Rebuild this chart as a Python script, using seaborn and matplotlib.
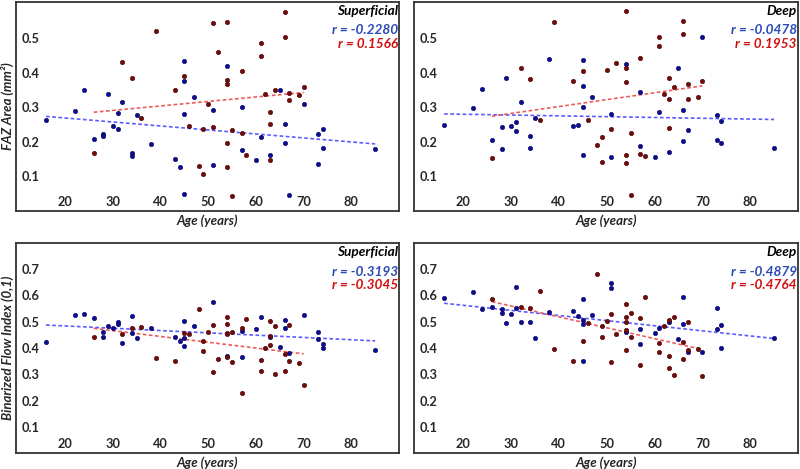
import matplotlib
matplotlib.use("Agg")
import matplotlib.pyplot as plt
import seaborn as sns

# ---- data (age in years) ----
# FAZ area, superficial layer
faz_sup_blue_age = [16, 22, 24, 26, 28, 28, 29, 30, 31, 31, 32, 34, 34, 35, 38, 43, 44, 45, 45, 45,
                    45, 47, 51, 51, 54, 57, 57, 60, 61, 63, 65, 66, 66, 67, 70, 73, 73, 74, 74, 85]
faz_sup_blue = [0.264, 0.290, 0.350, 0.208, 0.222, 0.218, 0.338, 0.246, 0.285, 0.238,
                0.316, 0.169, 0.158, 0.278, 0.194, 0.151, 0.127, 0.434, 0.375, 0.280,
                0.050, 0.329, 0.293, 0.134, 0.420, 0.300, 0.177, 0.148, 0.214, 0.162,
                0.350, 0.252, 0.198, 0.045, 0.310, 0.222, 0.135, 0.236, 0.182, 0.179]
faz_sup_red_age = [26, 32, 34, 36, 39, 43, 45, 46, 48, 49, 49, 50, 51, 51, 52, 54, 54, 54, 54, 54,
                   55, 55, 57, 57, 58, 61, 61, 62, 63, 63, 63, 64, 66, 66, 67, 67, 69, 70]
faz_sup_red = [0.167, 0.432, 0.384, 0.270, 0.521, 0.350, 0.392, 0.247, 0.131, 0.237,
               0.106, 0.309, 0.545, 0.243, 0.461, 0.548, 0.379, 0.368, 0.196, 0.127,
               0.235, 0.044, 0.406, 0.225, 0.162, 0.485, 0.448, 0.338, 0.288, 0.251,
               0.148, 0.350, 0.577, 0.505, 0.343, 0.322, 0.337, 0.360]

# FAZ area, deep layer
faz_deep_blue_age = faz_sup_blue_age
faz_deep_blue = [0.250, 0.299, 0.352, 0.205, 0.244, 0.179, 0.386, 0.246, 0.257, 0.231,
                 0.316, 0.217, 0.183, 0.270, 0.441, 0.246, 0.250, 0.436, 0.361, 0.300,
                 0.162, 0.330, 0.282, 0.157, 0.426, 0.344, 0.189, 0.155, 0.286, 0.170,
                 0.415, 0.291, 0.204, 0.234, 0.505, 0.278, 0.206, 0.261, 0.197, 0.181]
faz_deep_red_age = [26, 32, 34, 36, 39, 43, 45, 46, 48, 49, 49, 50, 51, 52, 54, 54, 54, 54, 54,
                    55, 55, 57, 57, 58, 61, 61, 62, 63, 63, 63, 64, 66, 66, 67, 67, 69, 70]
faz_deep_red = [0.154, 0.415, 0.382, 0.262, 0.548, 0.375, 0.405, 0.262, 0.190, 0.213,
                0.142, 0.408, 0.237, 0.428, 0.578, 0.413, 0.372, 0.162, 0.139, 0.226,
                0.047, 0.444, 0.165, 0.158, 0.503, 0.478, 0.339, 0.385, 0.324, 0.239,
                0.359, 0.551, 0.513, 0.369, 0.323, 0.330, 0.375]

# Binarized flow index, superficial layer
bfi_sup_blue_age = [16, 22, 24, 26, 28, 28, 29, 30, 31, 31, 32, 34, 34, 35, 38, 43, 44, 45, 45, 45,
                    47, 51, 54, 57, 57, 60, 61, 63, 65, 66, 66, 67, 70, 73, 73, 74, 74, 85]
bfi_sup_blue = [0.422, 0.525, 0.531, 0.513, 0.462, 0.441, 0.485, 0.478, 0.498, 0.490,
                0.419, 0.523, 0.456, 0.437, 0.475, 0.441, 0.428, 0.504, 0.437, 0.408,
                0.485, 0.574, 0.371, 0.465, 0.366, 0.471, 0.520, 0.441, 0.405, 0.506,
                0.475, 0.381, 0.525, 0.461, 0.434, 0.415, 0.399, 0.394]
bfi_red_age = [26, 32, 34, 36, 39, 43, 45, 46, 48, 49, 49, 50, 51, 51, 52, 54, 54, 54, 54, 54,
               55, 55, 57, 57, 58, 61, 61, 62, 63, 63, 63, 64, 64, 66, 66, 67, 67, 69, 70]
bfi_sup_red = [0.441, 0.453, 0.475, 0.480, 0.362, 0.350, 0.456, 0.455, 0.547, 0.428,
               0.389, 0.462, 0.486, 0.310, 0.357, 0.520, 0.490, 0.458, 0.452, 0.364,
               0.460, 0.348, 0.475, 0.228, 0.511, 0.354, 0.312, 0.401, 0.504, 0.446,
               0.411, 0.485, 0.301, 0.377, 0.312, 0.488, 0.352, 0.342, 0.259]

# Binarized flow index, deep layer
bfi_deep_blue_age = [16, 22, 24, 26, 28, 28, 29, 30, 31, 31, 32, 34, 35, 38, 43, 44, 45, 45, 45, 45,
                     47, 51, 51, 54, 57, 57, 60, 61, 63, 65, 66, 66, 67, 70, 73, 73, 74, 74, 85]
bfi_deep_blue = [0.591, 0.614, 0.549, 0.558, 0.549, 0.533, 0.495, 0.529, 0.633, 0.553,
                 0.498, 0.498, 0.439, 0.537, 0.542, 0.523, 0.586, 0.508, 0.493, 0.351,
                 0.524, 0.647, 0.630, 0.462, 0.471, 0.415, 0.457, 0.476, 0.498, 0.433,
                 0.594, 0.490, 0.386, 0.383, 0.551, 0.472, 0.488, 0.401, 0.437]
bfi_deep_red = [0.586, 0.555, 0.553, 0.616, 0.395, 0.351, 0.427, 0.495, 0.682, 0.484,
                0.442, 0.502, 0.529, 0.345, 0.455, 0.567, 0.520, 0.498, 0.469, 0.394,
                0.532, 0.441, 0.516, 0.334, 0.594, 0.420, 0.383, 0.485, 0.507, 0.369,
                0.325, 0.517, 0.296, 0.424, 0.357, 0.500, 0.392, 0.396, 0.294]

layers = ["Superficial", "Deep", "Superficial", "Deep"]
r_blue = ["r = -0.2280", "r = -0.0478", "r = -0.3193", "r = -0.4879"]
r_red = ["r = 0.1566", "r = 0.1953", "r = -0.3045", "r = -0.4764"]
x_ticks = [20, 30, 40, 50, 60, 70, 80]

DOT_BLUE = "#0c0c96"
DOT_RED = "#740a0a"
LINE_BLUE = "#5a5aff"
LINE_RED = "#ee5a5a"
TXT_BLUE = "#2b4ab8"
TXT_RED = "#d41010"

sns.set_style("white")
plt.rcParams['font.family'] = ['Lato', 'DejaVu Sans']


def draw_panel(ax, bx, by, rx, ry, layer, rb, rr, ylim, yticks, ylabel=None):
    line_kw = dict(lw=1.2, ls=(0, (2.2, 1.5)))
    sns.regplot(x=bx, y=by, ax=ax, scatter=False, ci=None, truncate=True,
                line_kws=dict(color=LINE_BLUE, **line_kw))
    sns.regplot(x=rx, y=ry, ax=ax, scatter=False, ci=None, truncate=True,
                line_kws=dict(color=LINE_RED, **line_kw))
    sns.scatterplot(x=bx, y=by, ax=ax, color=DOT_BLUE, edgecolor="#06065a",
                    s=10, linewidth=0.4, zorder=3)
    sns.scatterplot(x=rx, y=ry, ax=ax, color=DOT_RED, edgecolor="#440000",
                    s=10, linewidth=0.4, zorder=3)

    ax.set_xlim(9.7, 90)
    ax.set_ylim(*ylim)
    ax.set_xticks(x_ticks)
    ax.set_yticks(yticks)
    ax.set_xticklabels([str(t) for t in x_ticks])
    ax.set_yticklabels([f"{t:.1f}" for t in yticks])
    ax.tick_params(axis='x', direction='in', length=3, width=0.6, color='#666666',
                   labelsize=9.2, pad=-3.6)
    ax.tick_params(axis='y', direction='in', length=3, width=0.6, color='#666666',
                   labelsize=9.2, pad=-4.0)
    for lab in ax.get_xticklabels():
        lab.set_fontweight('bold')
        lab.set_verticalalignment('baseline')
    for lab in ax.get_yticklabels():
        lab.set_fontweight('bold')
        lab.set_horizontalalignment('left')
    for sp in ax.spines.values():
        sp.set_color('#333333')
        sp.set_linewidth(1.3)

    ax.set_xlabel("Age (years)", fontsize=9.5, fontweight='bold', style='italic')
    ax.xaxis.set_label_coords(0.5, -0.016)
    ax.xaxis.label.set_verticalalignment('top')
    if ylabel:
        ax.set_ylabel(ylabel, fontsize=9.5, fontweight='bold', style='italic')
        ax.yaxis.set_label_coords(-0.004, 0.5)
    else:
        ax.set_ylabel("")

    ax.text(0.997, 0.955, layer, transform=ax.transAxes, ha='right', va='center',
            fontsize=9.8, fontweight='bold', style='italic', color='black')
    ax.text(0.997, 0.864, rb, transform=ax.transAxes, ha='right', va='center',
            fontsize=9.8, fontweight='bold', style='italic', color=TXT_BLUE)
    ax.text(0.997, 0.800, rr, transform=ax.transAxes, ha='right', va='center',
            fontsize=9.8, fontweight='bold', style='italic', color=TXT_RED)


fig = plt.figure(figsize=(8, 4.69), dpi=100)
W, H = 800, 469
rects = [
    (16, 2, 399, 211),
    (414, 2, 798, 211),
    (16, 243, 399, 453),
    (414, 243, 798, 453),
]
axes = [fig.add_axes([l / W, 1 - b / H, (r - l) / W, (b - t) / H]) for l, t, r, b in rects]

faz_ticks = [0.1, 0.2, 0.3, 0.4, 0.5]
bfi_ticks = [0.1, 0.2, 0.3, 0.4, 0.5, 0.6, 0.7]

draw_panel(axes[0], faz_sup_blue_age, faz_sup_blue, faz_sup_red_age, faz_sup_red,
           layers[0], r_blue[0], r_red[0], (0.0, 0.605), faz_ticks, "FAZ Area (mm²)")
draw_panel(axes[1], faz_deep_blue_age, faz_deep_blue, faz_deep_red_age, faz_deep_red,
           layers[1], r_blue[1], r_red[1], (0.0, 0.605), faz_ticks)
draw_panel(axes[2], bfi_sup_blue_age, bfi_sup_blue, bfi_red_age, bfi_sup_red,
           layers[2], r_blue[2], r_red[2], (0.0, 0.8), bfi_ticks, "Binarized Flow Index (0,1)")
draw_panel(axes[3], bfi_deep_blue_age, bfi_deep_blue, bfi_red_age, bfi_deep_red,
           layers[3], r_blue[3], r_red[3], (0.0, 0.8), bfi_ticks)

fig.savefig("out.png", dpi=100)
